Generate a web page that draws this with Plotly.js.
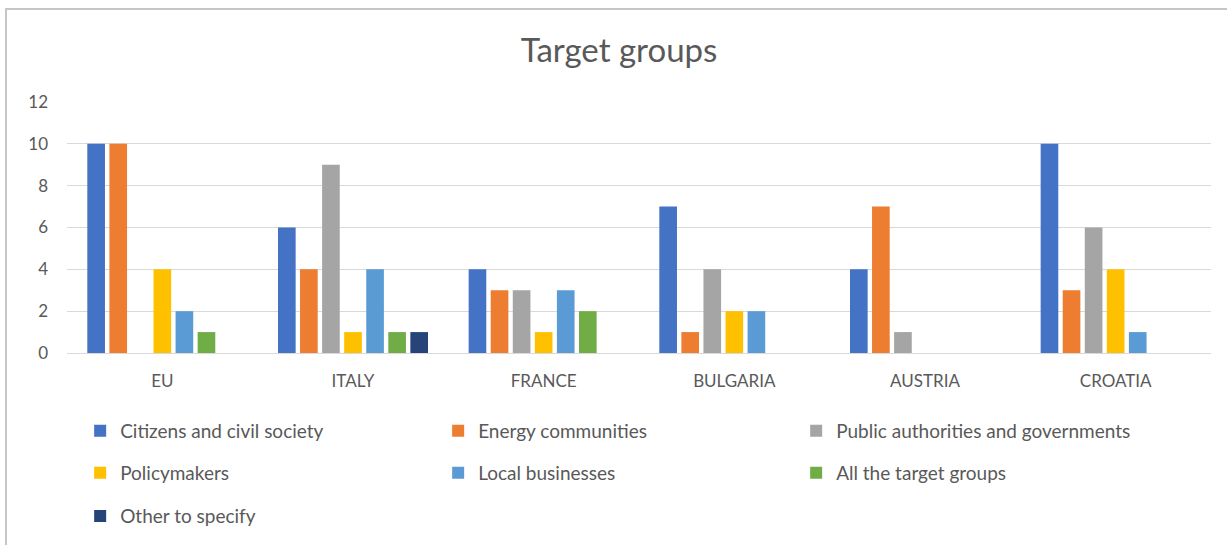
<!DOCTYPE html>
<html>
<head>
<meta charset="utf-8">
<script src="https://cdn.plot.ly/plotly-3.0.1.min.js"></script>
<style>
html,body{margin:0;padding:0;background:#fff;overflow:hidden;}
#frame{position:absolute;left:5px;top:8px;width:1400px;height:700px;border-left:2px solid #c6c6c6;border-top:2px solid #c6c6c6;pointer-events:none;z-index:5;}
#chart{position:absolute;left:0;top:0;width:1227px;height:545px;}
</style>
</head>
<body>
<div id="chart"></div>
<div id="frame"></div>
<script>
const categories = ["EU", "ITALY", "FRANCE", "BULGARIA", "AUSTRIA", "CROATIA"];
const seriesNames = ["Citizens and civil society", "Energy communities", "Public authorities and governments", "Policymakers", "Local businesses", "All the target groups", "Other to specify"];
const citizens      = [10, 6, 4, 7, 4, 10];
const energy        = [10, 4, 3, 1, 7, 3];
const publicAuth    = [0, 9, 3, 4, 1, 6];
const policymakers  = [4, 1, 1, 2, 0, 4];
const localBiz      = [2, 4, 3, 2, 0, 1];
const allGroups     = [1, 1, 2, 0, 0, 0];
const otherSpecify  = [0, 1, 0, 0, 0, 0];
const yTicks = [0, 2, 4, 6, 8, 10, 12];

const seriesValues = [citizens, energy, publicAuth, policymakers, localBiz, allGroups, otherSpecify];
const colors = ["#4472C4", "#ED7D31", "#A5A5A5", "#FFC000", "#5B9BD5", "#70AD47", "#264478"];
const legendIds = ["legend", "legend", "legend", "legend2", "legend2", "legend2", "legend3"];

const traces = seriesValues.map((vals, i) => ({
  type: "bar",
  name: seriesNames[i],
  x: categories,
  y: vals,
  marker: {color: colors[i], line: {width: 0}},
  legend: legendIds[i],
  hoverinfo: "x+y+name"
}));

const font = "Lato, 'Open Sans', sans-serif";
const txt = "#595959";
function leg(y) {
  return {
    orientation: "h", x: 0.0115, xanchor: "left", y: y, yanchor: "middle",
    entrywidth: 313, entrywidthmode: "pixels",
    font: {family: font, size: 19, color: txt},
    bgcolor: "rgba(0,0,0,0)", itemclick: false, traceorder: "normal"
  };
}

const layout = {
  width: 1227, height: 545,
  margin: {l: 67, r: 16, t: 102, b: 191},
  paper_bgcolor: "#fff", plot_bgcolor: "#fff",
  title: {text: "Target groups", x: 0.5045, xref: "container", xanchor: "center",
          y: 0.908, yref: "container", yanchor: "middle",
          font: {family: font, size: 33, color: txt}},
  barmode: "group", bargap: 0.19, bargroupgap: 0.2,
  xaxis: {type: "category", showgrid: false, showline: false, zeroline: false,
          ticks: "", ticklabelstandoff: 16,
          tickfont: {family: font, size: 17, color: txt}},
  yaxis: {range: [0, 12], tickvals: yTicks, ticktext: yTicks.map(String),
          showgrid: true, gridcolor: "#d9d9d9", gridwidth: 1,
          zeroline: true, zerolinecolor: "#d9d9d9", zerolinewidth: 1,
          showline: false, ticks: "", ticklabelstandoff: 18,
          tickfont: {family: font, size: 17, color: txt}},
  legend: leg(-0.3056),
  legend2: leg(-0.472),
  legend3: leg(-0.643),
  showlegend: true
};

Plotly.newPlot("chart", traces, layout, {displayModeBar: false, staticPlot: true});
</script>
</body>
</html>
